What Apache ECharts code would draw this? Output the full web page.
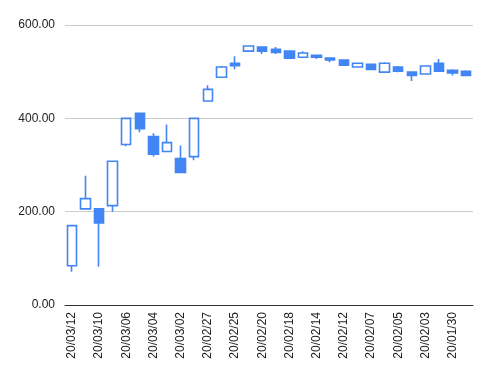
<!DOCTYPE html>
<html>
<head>
<meta charset="utf-8">
<script src="https://cdn.jsdelivr.net/npm/echarts@6/dist/echarts.min.js"></script>
<style>
  html, body { margin: 0; padding: 0; background: #fff; }
  #chart { width: 495px; height: 378px; }
</style>
</head>
<body>
<div id="chart"></div>
<script>
// dates, newest first (only every other one is labelled on the axis)
var dates = ['20/03/12', '20/03/11', '20/03/10', '20/03/09', '20/03/06', '20/03/05', '20/03/04', '20/03/03',
    '20/03/02', '20/02/28', '20/02/27', '20/02/26', '20/02/25', '20/02/21', '20/02/20', '20/02/19',
    '20/02/18', '20/02/17', '20/02/14', '20/02/13', '20/02/12', '20/02/10', '20/02/07', '20/02/06',
    '20/02/05', '20/02/04', '20/02/03', '20/01/31', '20/01/30', '20/01/29'];
var opens  = [84, 206, 206, 213, 344, 411, 361, 329, 314, 318, 437, 488, 518, 544, 553, 548, 544, 531, 535, 529, 525, 510, 516, 499, 510, 499, 495, 518, 503, 501];
var closes = [170, 228, 176, 308, 400, 378, 323, 348, 284, 400, 462, 510, 513, 555, 544, 541, 529, 540, 531, 525, 514, 518, 505, 518, 501, 492, 512, 501, 497, 492];
var lows   = [71, 204, 82, 200, 340, 370, 318, 329, 284, 310, 437, 488, 505, 544, 538, 538, 529, 531, 527, 520, 514, 510, 503, 499, 499, 480, 495, 501, 492, 490];
var highs  = [170, 277, 206, 308, 400, 411, 368, 387, 342, 400, 471, 512, 533, 555, 553, 553, 544, 544, 535, 531, 525, 518, 516, 520, 512, 499, 514, 527, 505, 503];
var yTicks = [0, 200, 400, 600];

var blue = '#4285f4';
var candleData = [];
for (var i = 0; i < dates.length; i++) {
    candleData.push([opens[i], closes[i], lows[i], highs[i]]);
}

var chart = echarts.init(document.getElementById('chart'));
var option = {
    animation: false,
    grid: {
        left: 65,
        right: 22,
        top: 25,
        bottom: 73
    },
    xAxis: {
        type: 'category',
        data: dates,
        boundaryGap: true,
        axisLine: { lineStyle: { color: '#333', width: 1 } },
        axisTick: { show: false },
        axisLabel: {
            interval: 1,
            rotate: 90,
            margin: 7,
            color: '#222',
            fontSize: 12,
            fontFamily: 'Liberation Sans, Arial, sans-serif'
        },
        splitLine: { show: false }
    },
    yAxis: {
        type: 'value',
        min: yTicks[0],
        max: yTicks[yTicks.length - 1],
        interval: 200,
        axisLine: { show: false },
        axisTick: { show: false },
        axisLabel: {
            margin: 10,
            color: '#222',
            fontSize: 12,
            fontFamily: 'Liberation Sans, Arial, sans-serif',
            formatter: function (v) { return v.toFixed(2); }
        },
        splitLine: { lineStyle: { color: '#cccccc', width: 1 } }
    },
    series: [{
        type: 'candlestick',
        data: candleData,
        barWidth: 10,
        itemStyle: {
            color: '#ffffff',
            color0: blue,
            borderColor: blue,
            borderColor0: blue,
            borderWidth: 1.6
        }
    }]
};
chart.setOption(option);
</script>
</body>
</html>
